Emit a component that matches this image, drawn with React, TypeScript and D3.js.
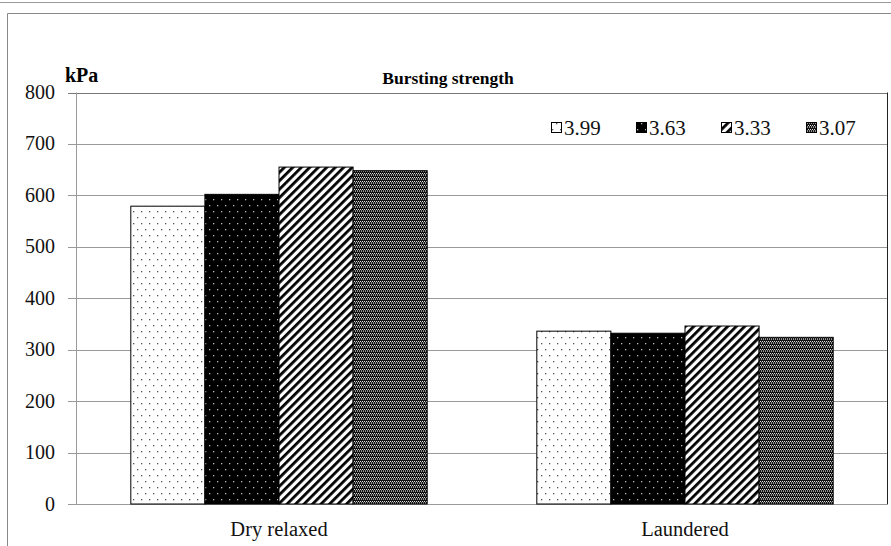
import { useEffect, useRef } from "react";
import * as d3 from "d3";

const categories = ["Dry relaxed", "Laundered"];
const seriesNames = ["3.99", "3.63", "3.33", "3.07"];
const seriesValues = [
  [579, 336],
  [602, 332],
  [655, 346],
  [648, 324],
];
const yTicks = [0, 100, 200, 300, 400, 500, 600, 700, 800];
const patternIds = ["pDots", "pBlackDots", "pStripes", "pChecker"];

const FONT = "'Liberation Serif', 'Times New Roman', serif";

export default function App() {
  const ref = useRef<SVGSVGElement>(null);

  useEffect(() => {
    if (!ref.current) return;
    const W = 891;
    const H = 546;
    const plot = { left: 76, right: 888, top: 92.5, bottom: 504 };

    const svg = d3.select(ref.current);
    svg.selectAll("*").remove();
    svg.attr("width", W).attr("height", H).style("font-family", FONT);

    // Patterns
    const defs = svg.append("defs");

    const dots = defs
      .append("pattern")
      .attr("id", "pDots")
      .attr("patternUnits", "userSpaceOnUse")
      .attr("width", 8)
      .attr("height", 12);
    dots.append("rect").attr("width", 8).attr("height", 12).attr("fill", "#fff");
    dots.append("rect").attr("x", 1).attr("y", 1).attr("width", 1.3).attr("height", 1.3).attr("fill", "#555");
    dots.append("rect").attr("x", 5).attr("y", 7).attr("width", 1.3).attr("height", 1.3).attr("fill", "#555");

    const bdots = defs
      .append("pattern")
      .attr("id", "pBlackDots")
      .attr("patternUnits", "userSpaceOnUse")
      .attr("width", 8)
      .attr("height", 12);
    bdots.append("rect").attr("width", 8).attr("height", 12).attr("fill", "#000");
    bdots.append("rect").attr("x", 1).attr("y", 1).attr("width", 1.3).attr("height", 1.3).attr("fill", "#bbb");
    bdots.append("rect").attr("x", 5).attr("y", 7).attr("width", 1.3).attr("height", 1.3).attr("fill", "#bbb");

    const stripes = defs
      .append("pattern")
      .attr("id", "pStripes")
      .attr("patternUnits", "userSpaceOnUse")
      .attr("width", 6)
      .attr("height", 6)
      .attr("patternTransform", "rotate(45)");
    stripes.append("rect").attr("width", 6).attr("height", 6).attr("fill", "#fff");
    stripes.append("rect").attr("width", 2.8).attr("height", 6).attr("fill", "#000");

    const checker = defs
      .append("pattern")
      .attr("id", "pChecker")
      .attr("patternUnits", "userSpaceOnUse")
      .attr("width", 4)
      .attr("height", 4);
    checker.append("rect").attr("width", 4).attr("height", 4).attr("fill", "#111");
    checker.append("rect").attr("x", 0).attr("y", 1).attr("width", 1).attr("height", 1).attr("fill", "#ddd");
    checker.append("rect").attr("x", 2).attr("y", 1).attr("width", 1).attr("height", 1).attr("fill", "#ddd");
    checker.append("rect").attr("x", 1).attr("y", 2).attr("width", 1).attr("height", 1).attr("fill", "#888");
    checker.append("rect").attr("x", 3).attr("y", 2).attr("width", 1).attr("height", 1).attr("fill", "#888");
    checker.append("rect").attr("x", 1).attr("y", 3).attr("width", 1).attr("height", 1).attr("fill", "#999");
    checker.append("rect").attr("x", 3).attr("y", 3).attr("width", 1).attr("height", 1).attr("fill", "#999");

    // Outer frame lines
    svg.append("rect").attr("width", W).attr("height", H).attr("fill", "#fff");
    svg
      .append("line")
      .attr("x1", 0)
      .attr("x2", W)
      .attr("y1", 2.5)
      .attr("y2", 2.5)
      .attr("stroke", "#999")
      .attr("stroke-width", 1);
    svg
      .append("path")
      .attr("d", `M7.5,${H} V13.5 H${W}`)
      .attr("fill", "none")
      .attr("stroke", "#888")
      .attr("stroke-width", 1);

    const x0 = d3
      .scaleBand<string>()
      .domain(categories)
      .range([plot.left, plot.right])
      .paddingInner(0.27)
      .paddingOuter(0.135);
    const x1 = d3
      .scaleBand<string>()
      .domain(seriesNames)
      .range([0, x0.bandwidth()]);
    const y = d3.scaleLinear().domain([0, 800]).range([plot.bottom, plot.top]);

    // Gridlines (with tick stubs left of the axis)
    svg
      .append("g")
      .selectAll("line")
      .data(yTicks)
      .join("line")
      .attr("x1", plot.left - 8)
      .attr("x2", plot.right)
      .attr("y1", (d) => Math.round(y(d)) + 0.5)
      .attr("y2", (d) => Math.round(y(d)) + 0.5)
      .attr("stroke", (d) => (d === 800 ? "#777" : "#999"))
      .attr("stroke-width", 1);

    // Y axis line and right border
    svg
      .append("line")
      .attr("x1", plot.left + 0.5)
      .attr("x2", plot.left + 0.5)
      .attr("y1", y(800))
      .attr("y2", y(0))
      .attr("stroke", "#999");
    svg
      .append("line")
      .attr("x1", plot.right - 0.5)
      .attr("x2", plot.right - 0.5)
      .attr("y1", y(800))
      .attr("y2", y(0))
      .attr("stroke", "#222");

    // Tick labels
    svg
      .append("g")
      .selectAll("text")
      .data(yTicks)
      .join("text")
      .attr("x", 55)
      .attr("y", (d) => y(d) + 6.5)
      .attr("text-anchor", "end")
      .style("font-size", "20px")
      .attr("fill", "#111")
      .text((d) => d);

    // Bars
    seriesNames.forEach((s, si) => {
      svg
        .append("g")
        .selectAll("rect")
        .data(categories)
        .join("rect")
        .attr("x", (c) => (x0(c) ?? 0) + (x1(s) ?? 0))
        .attr("y", (c, ci) => y(seriesValues[si][ci]))
        .attr("width", x1.bandwidth())
        .attr("height", (c, ci) => y(0) - y(seriesValues[si][ci]))
        .attr("fill", `url(#${patternIds[si]})`)
        .attr("stroke", "#000")
        .attr("stroke-width", 1);
    });

    // Category labels
    svg
      .append("g")
      .selectAll("text")
      .data(categories)
      .join("text")
      .attr("x", (c) => (x0(c) ?? 0) + x0.bandwidth() / 2)
      .attr("y", 536)
      .attr("text-anchor", "middle")
      .style("font-size", "20.5px")
      .attr("fill", "#111")
      .text((c) => c);

    // Title and unit
    svg
      .append("text")
      .attr("x", 448)
      .attr("y", 84)
      .attr("text-anchor", "middle")
      .style("font-size", "17.5px")
      .style("font-weight", "bold")
      .text("Bursting strength");
    svg
      .append("text")
      .attr("x", 65)
      .attr("y", 82)
      .style("font-size", "20px")
      .style("font-weight", "bold")
      .text("kPa");

    // Legend
    const legendX = [551, 636, 721, 806];
    const lg = svg
      .append("g")
      .selectAll("g")
      .data(seriesNames)
      .join("g")
      .attr("transform", (d, i) => `translate(${legendX[i]},128)`);
    lg.append("rect")
      .attr("x", 0.5)
      .attr("y", -5.5)
      .attr("width", 10)
      .attr("height", 10)
      .attr("fill", (d, i) => `url(#${patternIds[i]})`)
      .attr("stroke", "#000")
      .attr("stroke-width", 1);
    lg.append("text")
      .attr("x", 13)
      .attr("y", 7)
      .style("font-size", "21px")
      .attr("fill", "#111")
      .text((d) => d);
  }, []);

  return (
    <svg
      ref={ref}
      style={{ position: "absolute", left: 0, top: 0, display: "block" }}
    />
  );
}
